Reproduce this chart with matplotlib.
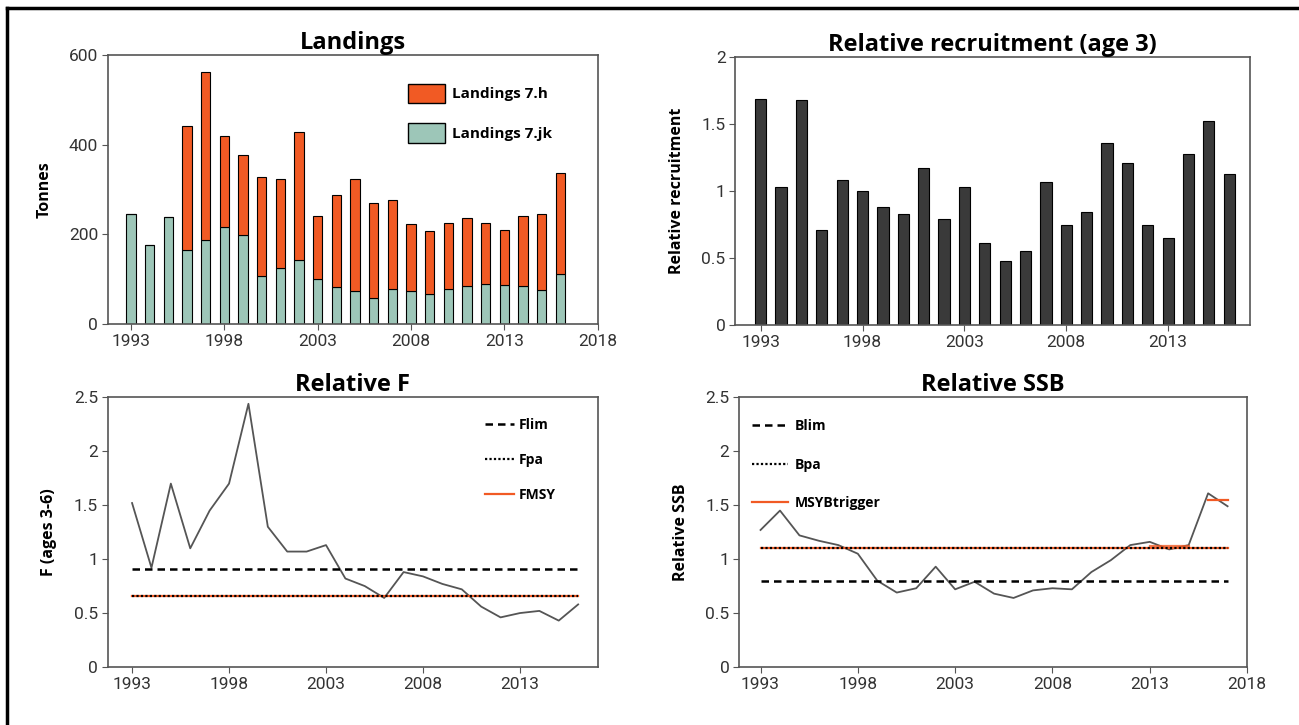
import matplotlib
matplotlib.use('Agg')
import matplotlib.pyplot as plt
from matplotlib.lines import Line2D
from matplotlib.patches import Patch

# landings (tonnes)
land_years = list(range(1993, 2017))
landings_jk = [245, 177, 239, 165, 188, 217, 198, 107, 125, 142, 100, 82,
               73, 59, 79, 73, 67, 79, 85, 90, 88, 85, 76, 112]
landings_total = [245, 177, 239, 441, 563, 420, 378, 328, 324, 429, 241, 288,
                  324, 270, 276, 224, 208, 226, 236, 226, 209, 242, 245, 337]
landings_h = [t - j for t, j in zip(landings_total, landings_jk)]

# relative recruitment (age 3)
rec_years = list(range(1993, 2017))
recruitment = [1.69, 1.03, 1.68, 0.71, 1.08, 1.00, 0.88, 0.83, 1.17, 0.79, 1.03, 0.61,
               0.475, 0.555, 1.07, 0.745, 0.84, 1.36, 1.21, 0.745, 0.65, 1.28, 1.52, 1.13]

# relative F (ages 3-6)
f_years = list(range(1993, 2017))
rel_f = [1.52, 0.92, 1.70, 1.10, 1.45, 1.70, 2.44, 1.30, 1.07, 1.07, 1.13, 0.82,
         0.75, 0.64, 0.88, 0.84, 0.77, 0.72, 0.56, 0.46, 0.50, 0.52, 0.43, 0.58]
f_lim = 0.91
f_pa = 0.66
f_msy = 0.66

# relative SSB
ssb_years = list(range(1993, 2018))
rel_ssb = [1.27, 1.45, 1.22, 1.17, 1.13, 1.05, 0.80, 0.69, 0.73, 0.93, 0.72, 0.79,
           0.68, 0.64, 0.71, 0.73, 0.72, 0.88, 0.99, 1.13, 1.16, 1.09, 1.13, 1.61, 1.49]
b_lim = 0.80
b_pa = 1.10
msy_btrigger = 1.10
trig_years_mid = [2013, 2015]
trig_mid = [1.12, 1.12]
trig_years_hi = [2016, 2017]
trig_hi = [1.55, 1.55]

C_H = '#f15a24'
C_JK = '#9dc6b8'
C_REC = '#3a3a3a'
C_LINE = '#555555'
SPINE = '#555555'
TICKC = '#333333'

plt.rcParams['font.family'] = ['Roboto', 'DejaVu Sans']

fig = plt.figure(figsize=(12.99, 7.25), dpi=100)
ax1 = fig.add_axes([0.083, 0.553, 0.377, 0.371])
ax2 = fig.add_axes([0.566, 0.552, 0.396, 0.369])
ax3 = fig.add_axes([0.083, 0.080, 0.377, 0.372])
ax4 = fig.add_axes([0.569, 0.080, 0.391, 0.372])

BOLD = ['Open Sans', 'DejaVu Sans']
title_font = dict(family=BOLD, fontweight='bold', fontsize=17)
label_font = dict(family=BOLD, fontweight='bold', fontsize=11.5)


def style(ax, title, ylabel, xlim, xticks):
    ax.set_title(title, pad=4, **title_font)
    ax.set_ylabel(ylabel, labelpad=12, **label_font)
    ax.set_xlim(*xlim)
    ax.set_xticks(xticks)
    for s in ax.spines.values():
        s.set_color(SPINE)
        s.set_linewidth(1.2)
    ax.tick_params(direction='out', length=4, color=SPINE, labelsize=12.5,
                   labelcolor=TICKC, pad=3)


# Landings
ax1.bar(land_years, landings_jk, width=0.5, color=C_JK, edgecolor='black', linewidth=0.8)
ax1.bar(land_years, landings_h, width=0.5, bottom=landings_jk, color=C_H,
        edgecolor='black', linewidth=0.8)
style(ax1, 'Landings', 'Tonnes', (1991.75, 2018), range(1993, 2019, 5))
ax1.set_ylim(0, 600)
ax1.set_yticks([0, 200, 400, 600])
handles = [Patch(facecolor=C_H, edgecolor='black', label='Landings 7.h'),
           Patch(facecolor=C_JK, edgecolor='black', label='Landings 7.jk')]
ax1.legend(handles=handles, loc='upper left', bbox_to_anchor=(0.585, 0.945), frameon=False,
           prop=dict(family=BOLD, weight='bold', size=11),
           handlelength=2.4, handleheight=1.6, labelspacing=1.3, handletextpad=0.5)

# Recruitment
ax2.bar(rec_years, recruitment, width=0.55, color=C_REC, edgecolor='black', linewidth=0.8)
style(ax2, 'Relative recruitment (age 3)', 'Relative recruitment', (1991.75, 2017),
      range(1993, 2014, 5))
ax2.set_ylim(0, 2)
ax2.set_yticks([0, 0.5, 1, 1.5, 2])
ax2.set_yticklabels(['0', '0.5', '1', '1.5', '2'])

# Relative F
ax3.plot(f_years, rel_f, color=C_LINE, linewidth=1.3)
ax3.plot([f_years[0], f_years[-1]], [f_msy, f_msy], color=C_H, linewidth=1.6, label='FMSY')
ax3.plot([f_years[0], f_years[-1]], [f_pa, f_pa], color='black', linestyle=(0, (1, 1)),
         linewidth=1.6, label='Fpa')
ax3.plot([f_years[0], f_years[-1]], [f_lim, f_lim], color='black', linestyle=(0, (3, 2)),
         linewidth=1.8, label='Flim')
style(ax3, 'Relative F', 'F (ages 3-6)', (1991.75, 2017), range(1993, 2014, 5))
ax3.set_ylim(0, 2.5)
ax3.set_yticks([0, 0.5, 1, 1.5, 2, 2.5])
ax3.set_yticklabels(['0', '0.5', '1', '1.5', '2', '2.5'])
h, l = ax3.get_legend_handles_labels()
order = [2, 1, 0]
ax3.legend([h[i] for i in order], [l[i] for i in order], loc='upper left',
           bbox_to_anchor=(0.745, 0.97), frameon=False,
           prop=dict(family=BOLD, weight='bold', size=10),
           handlelength=2.1, labelspacing=1.5, handletextpad=0.3)

# Relative SSB
ax4.plot(ssb_years, rel_ssb, color=C_LINE, linewidth=1.3)
ax4.plot([ssb_years[0], ssb_years[-1]], [msy_btrigger, msy_btrigger], color=C_H,
         linewidth=1.6, label='MSYBtrigger')
ax4.plot(trig_years_mid, trig_mid, color=C_H, linewidth=1.6, alpha=0.8)
ax4.plot(trig_years_hi, trig_hi, color=C_H, linewidth=1.6)
ax4.plot([ssb_years[0], ssb_years[-1]], [b_pa, b_pa], color='black', linestyle=(0, (1, 1)),
         linewidth=1.6, label='Bpa')
ax4.plot([ssb_years[0], ssb_years[-1]], [b_lim, b_lim], color='black', linestyle=(0, (3, 2)),
         linewidth=1.8, label='Blim')
style(ax4, 'Relative SSB', 'Relative SSB', (1991.9, 2018), range(1993, 2019, 5))
ax4.set_ylim(0, 2.5)
ax4.set_yticks([0, 0.5, 1, 1.5, 2, 2.5])
ax4.set_yticklabels(['0', '0.5', '1', '1.5', '2', '2.5'])
h, l = ax4.get_legend_handles_labels()
ax4.legend([h[i] for i in order], [l[i] for i in order], loc='upper left',
           bbox_to_anchor=(0.0, 0.965), frameon=False,
           prop=dict(family=BOLD, weight='bold', size=10),
           handlelength=2.6, labelspacing=1.75, handletextpad=0.5)

# outer frame (left and top edges)
fig.add_artist(Line2D([7 / 1299, 7 / 1299], [0, 1 - 8 / 725], color='black', linewidth=2.5))
fig.add_artist(Line2D([7 / 1299, 1], [1 - 8 / 725, 1 - 8 / 725], color='black', linewidth=2.5))

fig.savefig('out.png', dpi=100)
